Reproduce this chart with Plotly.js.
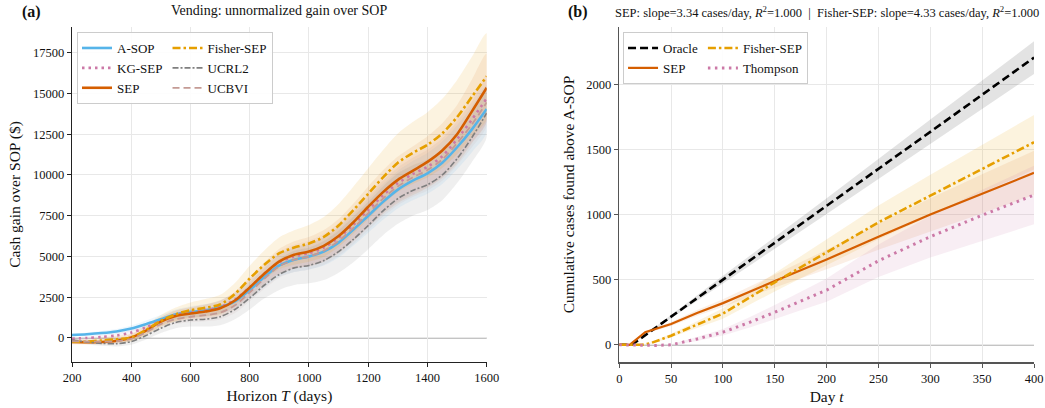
<!DOCTYPE html>
<html><head><meta charset="utf-8">
<script src="https://cdn.plot.ly/plotly-3.0.1.min.js"></script>
<style>body{margin:0;background:#fff}#chart{width:1045px;height:408px}</style>
</head><body><div id="chart"></div>
<script>
// ---------- Panel (a): Vending, gain over SOP ----------
const horizon = [200,250,300,350,400,450,500,550,600,650,700,750,800,850,900,950,1000,1050,1100,1150,1200,1250,1300,1350,1400,1450,1500,1550,1600];

const asopMean   = [180,230,300,400,580,850,1150,1450,1600,1700,1900,2250,2950,3750,4450,4800,5000,5300,5850,6650,7500,8350,9100,9650,10100,10750,11700,12800,14050];
const asopHalf   = [100,110,130,150,180,220,260,300,340,380,420,480,550,620,700,760,800,860,920,980,1040,1100,1150,1200,1250,1300,1350,1400,1450];

const kgsepMean  = [-50,0,60,150,330,650,1050,1400,1580,1700,1900,2350,3100,3950,4650,5000,5200,5550,6150,6950,7850,8750,9500,10050,10500,11150,12200,13400,14700];
const kgsepHalf  = [90,100,120,140,170,200,240,280,320,360,400,460,520,600,680,740,780,840,900,960,1020,1080,1130,1180,1230,1280,1330,1380,1430];

const sepMean    = [-250,-260,-250,-170,30,450,1000,1350,1500,1620,1820,2300,3100,3950,4700,5100,5300,5650,6250,7100,8050,8950,9700,10250,10800,11500,12500,13900,15350];
const sepHalf    = [120,130,150,170,200,240,290,340,380,430,480,540,620,700,780,840,900,970,1050,1150,1250,1340,1430,1500,1580,1680,1800,1950,2100];

const fisherMean = [-230,-230,-150,-80,30,500,1050,1450,1700,1850,2050,2700,3650,4500,5200,5550,5800,6200,6900,7850,8850,9850,10750,11350,11850,12550,13550,14800,16050];
const fisherHalf = [150,160,180,210,250,300,360,420,480,540,600,680,780,880,980,1060,1130,1220,1320,1440,1560,1680,1800,1900,2000,2120,2280,2450,2650];

const ucrl2Mean  = [-120,-250,-330,-350,-220,150,600,950,1100,1150,1300,1750,2450,3250,3900,4300,4450,4750,5300,6050,6900,7800,8550,9050,9400,10000,11000,12300,13800];
const ucrl2Half  = [120,130,150,170,200,250,300,350,400,450,520,600,700,820,950,1050,1100,1200,1300,1400,1450,1500,1550,1550,1550,1550,1500,1500,1500];

const ucbviMean  = [-200,-220,-230,-200,-50,350,850,1150,1300,1400,1550,2000,2800,3650,4400,4800,5000,5350,5950,6750,7650,8550,9300,9850,10300,10950,11950,13100,14450];
const ucbviHalf  = [100,110,130,150,180,210,250,290,330,370,410,470,540,620,700,760,800,860,920,980,1040,1100,1150,1200,1250,1300,1350,1400,1450];

const xTicksA = [200,400,600,800,1000,1200,1400,1600];
const yTicksA = [0,2500,5000,7500,10000,12500,15000,17500];

// ---------- Panel (b): cumulative cases above A-SOP ----------
const oracleDay  = [0,12,100,200,300,400];
const oracleMean = [0,0,500,1065,1635,2205];
const oracleHalf = [0,0,30,60,95,125];

const sepBDay    = [0,10,25,35,50,75,100,150,200,250,300,350,400];
const sepBMean   = [0,0,97,120,160,245,320,490,655,830,1000,1160,1320];
const sepBHalf   = [0,0,10,12,15,22,30,50,75,100,125,150,170];

const fisherBDay = [0,22,30,40,50,75,100,150,200,250,300,350,400];
const fisherBMean= [0,0,12,40,70,155,240,480,710,940,1145,1350,1555];
const fisherBHalf= [0,0,5,10,15,25,40,70,100,130,160,185,210];

const thompDay   = [0,20,35,50,75,100,125,150,175,200,250,300,350,400];
const thompMean  = [0,-2,-5,0,45,97,170,250,335,420,645,830,995,1150];
const thompHalf  = [0,0,2,5,15,25,40,55,70,90,125,160,195,225];

const xTicksB = [0,50,100,150,200,250,300,350,400];
const yTicksB = [0,500,1000,1500,2000];

// ---------- helpers ----------
const FONT = "Liberation Serif, Times New Roman, serif";
function band(x, m, h, color, xa, ya, shape) {
  const hi = m.map((v,i)=>v+h[i]);
  const lo = m.map((v,i)=>v-h[i]);
  return {x: x.concat(x.slice().reverse()), y: hi.concat(lo.slice().reverse()),
    type:'scatter', mode:'lines', fill:'toself', fillcolor: color,
    line:{width:0, shape: shape, smoothing:0.8}, hoverinfo:'skip', showlegend:false, xaxis:xa, yaxis:ya};
}
function line(x, m, name, color, width, dash, xa, ya, group, legend, shape) {
  return {x:x, y:m, name:name, type:'scatter', mode:'lines',
    line:{color:color, width:width, dash:dash, shape:shape, smoothing:0.8},
    xaxis:xa, yaxis:ya, legendgroup:group, legend:legend};
}

const C = {asop:'#56B4E9', kg:'#CC79A7', sep:'#D55E00', fisher:'#E69F00', ucrl2:'#7f7f7f', ucbvi:'#C49A94', oracle:'#000000'};

const traces = [
  band(horizon, ucrl2Mean, ucrl2Half, 'rgba(127,127,127,0.12)', 'x','y','spline'),
  band(horizon, asopMean, asopHalf, 'rgba(86,180,233,0.10)', 'x','y','spline'),
  band(horizon, kgsepMean, kgsepHalf, 'rgba(204,121,167,0.08)', 'x','y','spline'),
  band(horizon, ucbviMean, ucbviHalf, 'rgba(188,143,143,0.10)', 'x','y','spline'),
  band(horizon, sepMean, sepHalf, 'rgba(213,94,0,0.09)', 'x','y','spline'),
  band(horizon, fisherMean, fisherHalf, 'rgba(230,159,0,0.12)', 'x','y','spline'),

  line(horizon, asopMean, 'A-SOP', C.asop, 2.6, 'solid', 'x','y','g1','legend','spline'),
  line(horizon, kgsepMean, 'KG-SEP', C.kg, 2.6, '2.5px,4px', 'x','y','g1','legend','spline'),
  line(horizon, sepMean, 'SEP', C.sep, 2.6, 'solid', 'x','y','g1','legend','spline'),
  line(horizon, fisherMean, 'Fisher-SEP', C.fisher, 2.6, '8px,3px,2.5px,3px', 'x','y','g2','legend','spline'),
  line(horizon, ucrl2Mean, 'UCRL2', C.ucrl2, 1.6, '6px,2px,2px,2px', 'x','y','g2','legend','spline'),
  line(horizon, ucbviMean, 'UCBVI', C.ucbvi, 1.8, '7px,4px', 'x','y','g2','legend','spline'),

  band(oracleDay, oracleMean, oracleHalf, 'rgba(0,0,0,0.11)', 'x2','y2','linear'),
  band(fisherBDay, fisherBMean, fisherBHalf, 'rgba(230,159,0,0.13)', 'x2','y2','linear'),
  band(sepBDay, sepBMean, sepBHalf, 'rgba(213,94,0,0.10)', 'x2','y2','linear'),
  band(thompDay, thompMean, thompHalf, 'rgba(204,121,167,0.13)', 'x2','y2','linear'),

  line(oracleDay, oracleMean, 'Oracle', C.oracle, 2.6, '8px,4px', 'x2','y2','g3','legend2','linear'),
  line(sepBDay, sepBMean, 'SEP', C.sep, 2.2, 'solid', 'x2','y2','g3','legend2','linear'),
  line(fisherBDay, fisherBMean, 'Fisher-SEP', C.fisher, 2.6, '8px,3px,2.5px,3px', 'x2','y2','g4','legend2','linear'),
  line(thompDay, thompMean, 'Thompson', C.kg, 3, '2.5px,4.5px', 'x2','y2','g4','legend2','linear')
];

const axBase = {showgrid:true, gridcolor:'#e8e8e8', gridwidth:1, zeroline:false, showline:true,
  ticks:'outside', ticklen:4, tickwidth:1, tickfont:{family:FONT, size:12.5, color:'#111'}};

const legBase = {orientation:'h', traceorder:'grouped', bgcolor:'rgba(255,255,255,0.9)', bordercolor:'#cccccc',
  borderwidth:1, font:{family:FONT, size:13, color:'#111'}, xanchor:'left', yanchor:'top', itemwidth:30};

const layout = {
  width:1045, height:408, margin:{l:72, r:11, t:27, b:46},
  paper_bgcolor:'#fff', plot_bgcolor:'#fff', font:{family:FONT, color:'#111'},
  xaxis: Object.assign({}, axBase, {domain:[0,0.4311], range:[200,1600], tickvals:xTicksA, anchor:'y',
    linecolor:'#222', linewidth:1.2, tickcolor:'#222',
    title:{text:'Horizon <i>T</i> (days)', font:{family:FONT, size:15.5}, standoff:6}}),
  yaxis: Object.assign({}, axBase, {range:[-1474,19078], tickvals:yTicksA, tickformat:'d', anchor:'x',
    linecolor:'#222', linewidth:1.2, tickcolor:'#222',
    title:{text:'Cash gain over SOP ($)', font:{family:FONT, size:15.5}, standoff:8}}),
  xaxis2: Object.assign({}, axBase, {domain:[0.5689,1], range:[0,400], tickvals:xTicksB, anchor:'y2',
    linecolor:'#555', linewidth:1.5, tickcolor:'#555',
    title:{text:'Day <i>t</i>', font:{family:FONT, size:15.5}, standoff:6}}),
  yaxis2: Object.assign({}, axBase, {range:[-132,2440], tickvals:yTicksB, tickformat:'d', anchor:'x2',
    linecolor:'#555', linewidth:1.5, tickcolor:'#555',
    title:{text:'Cumulative cases found above A-SOP', font:{family:FONT, size:15.5}, standoff:8}}),
  legend: Object.assign({}, legBase, {x:0.0052, y:0.985}),
  legend2: Object.assign({}, legBase, {x:0.5728, y:0.985}),
  shapes: [
    {type:'line', xref:'x domain', yref:'y', x0:0, x1:1, y0:0, y1:0, line:{color:'#8a8a8a', width:1.2}, layer:'below'},
    {type:'line', xref:'x2 domain', yref:'y2', x0:0, x1:1, y0:0, y1:0, line:{color:'#8a8a8a', width:1.2}, layer:'below'}
  ],
  annotations: [
    {text:'Vending: unnormalized gain over SOP', xref:'x domain', yref:'paper', x:0.5, y:1.048, xanchor:'center', yanchor:'middle',
     showarrow:false, font:{family:FONT, size:14, color:'#111'}},
    {text:'SEP: slope=3.34 cases/day, <i>R</i><sup>2</sup>=1.000  |  Fisher-SEP: slope=4.33 cases/day, <i>R</i><sup>2</sup>=1.000',
     xref:'x2 domain', yref:'paper', x:0.5, y:1.045, xanchor:'center', yanchor:'middle',
     showarrow:false, font:{family:FONT, size:12.5, color:'#111'}},
    {text:'<b>(a)</b>', xref:'paper', yref:'paper', x:-0.0426, y:1.045, xanchor:'center', yanchor:'middle',
     showarrow:false, font:{family:FONT, size:16, color:'#111'}},
    {text:'<b>(b)</b>', xref:'paper', yref:'paper', x:0.526, y:1.045, xanchor:'center', yanchor:'middle',
     showarrow:false, font:{family:FONT, size:16, color:'#111'}}
  ],
  showlegend:true
};

Plotly.newPlot('chart', traces, layout, {displayModeBar:false, staticPlot:true});
</script></body></html>
